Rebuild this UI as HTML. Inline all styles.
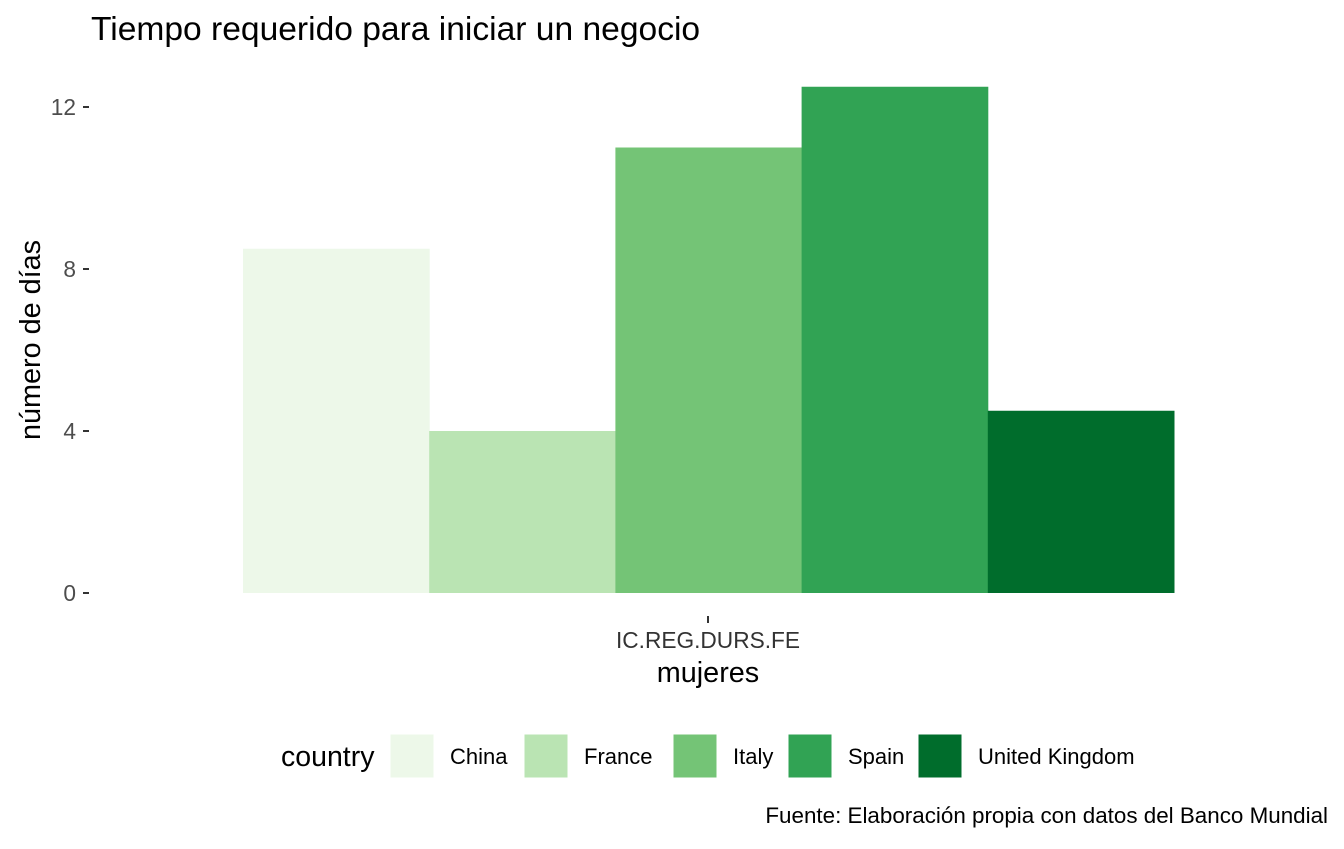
<!DOCTYPE html>
<html><head><meta charset="utf-8"><style>
body{margin:0;background:#fff;}
svg text{font-family:"Liberation Sans",Arial,sans-serif;}
</style></head><body>
<svg id="chart" width="1344" height="844" xmlns="http://www.w3.org/2000/svg">
<text x="91" y="40" font-size="33.6" fill="#000">Tiempo requerido para iniciar un negocio</text>
<g id="yaxis"></g>
<g id="bars"></g>
<line x1="708" x2="708" y1="616" y2="623" stroke="#333" stroke-width="2"/>
<text x="708" y="648" font-size="22.7" fill="#333" text-anchor="middle">IC.REG.DURS.FE</text>
<text x="708" y="682" font-size="28.8" fill="#000" text-anchor="middle">mujeres</text>
<text transform="translate(40,340) rotate(-90)" font-size="28.8" fill="#000" text-anchor="middle">número de días</text>
<g id="legend">
<text x="281" y="766" font-size="28.5" fill="#000">country</text>
</g>
<text x="1328" y="823" font-size="22.4" fill="#000" text-anchor="end">Fuente: Elaboración propia con datos del Banco Mundial</text>
</svg>
<script>
const categories=["China","France","Italy","Spain","United Kingdom"];
const values=[8.5,4,11,12.5,4.5];
const colors=["#edf8e9","#bae4b3","#74c476","#31a354","#006d2c"];
const yTicks=[0,4,8,12];
const NS="http://www.w3.org/2000/svg";
function y(v){return 593-v*40.5;}
const bx0=243,bw=186.2;
function x(i){return bx0+i*bw;}
const ya=document.getElementById('yaxis');
yTicks.forEach(t=>{
 const l=document.createElementNS(NS,'line');
 l.setAttribute('x1',83);l.setAttribute('x2',89);l.setAttribute('y1',y(t));l.setAttribute('y2',y(t));
 l.setAttribute('stroke','#333');l.setAttribute('stroke-width',2);
 
 
 ya.appendChild(l);
 const tx=document.createElementNS(NS,'text');
 tx.setAttribute('x',76);tx.setAttribute('y',y(t)+8);tx.setAttribute('text-anchor','end');
 tx.setAttribute('font-size',22.7);tx.setAttribute('fill','#4d4d4d');tx.textContent=t;
 
 
 ya.appendChild(tx);
});
const bg=document.getElementById('bars');
values.forEach((v,i)=>{
 const r=document.createElementNS(NS,'rect');
 r.setAttribute('x',x(i));r.setAttribute('width',bw+0.5);
 r.setAttribute('y',y(v));r.setAttribute('height',y(0)-y(v));
 r.setAttribute('fill',colors[i]);
 
 
 bg.appendChild(r);
});
const lg=document.getElementById('legend');
const keyX=[390,524,673,788,918];
categories.forEach((c,i)=>{
 const r=document.createElementNS(NS,'rect');
 r.setAttribute('x',keyX[i]);r.setAttribute('y',734);r.setAttribute('width',44);r.setAttribute('height',44);
 r.setAttribute('fill',colors[i]);r.setAttribute('stroke','#fff');r.setAttribute('stroke-width',1);
 
 
 lg.appendChild(r);
 const t=document.createElementNS(NS,'text');
 t.setAttribute('x',keyX[i]+60);t.setAttribute('y',764);t.setAttribute('font-size',22);t.setAttribute('fill','#000');
 t.textContent=c;
 
 
 lg.appendChild(t);
});
</script>
</body></html>
